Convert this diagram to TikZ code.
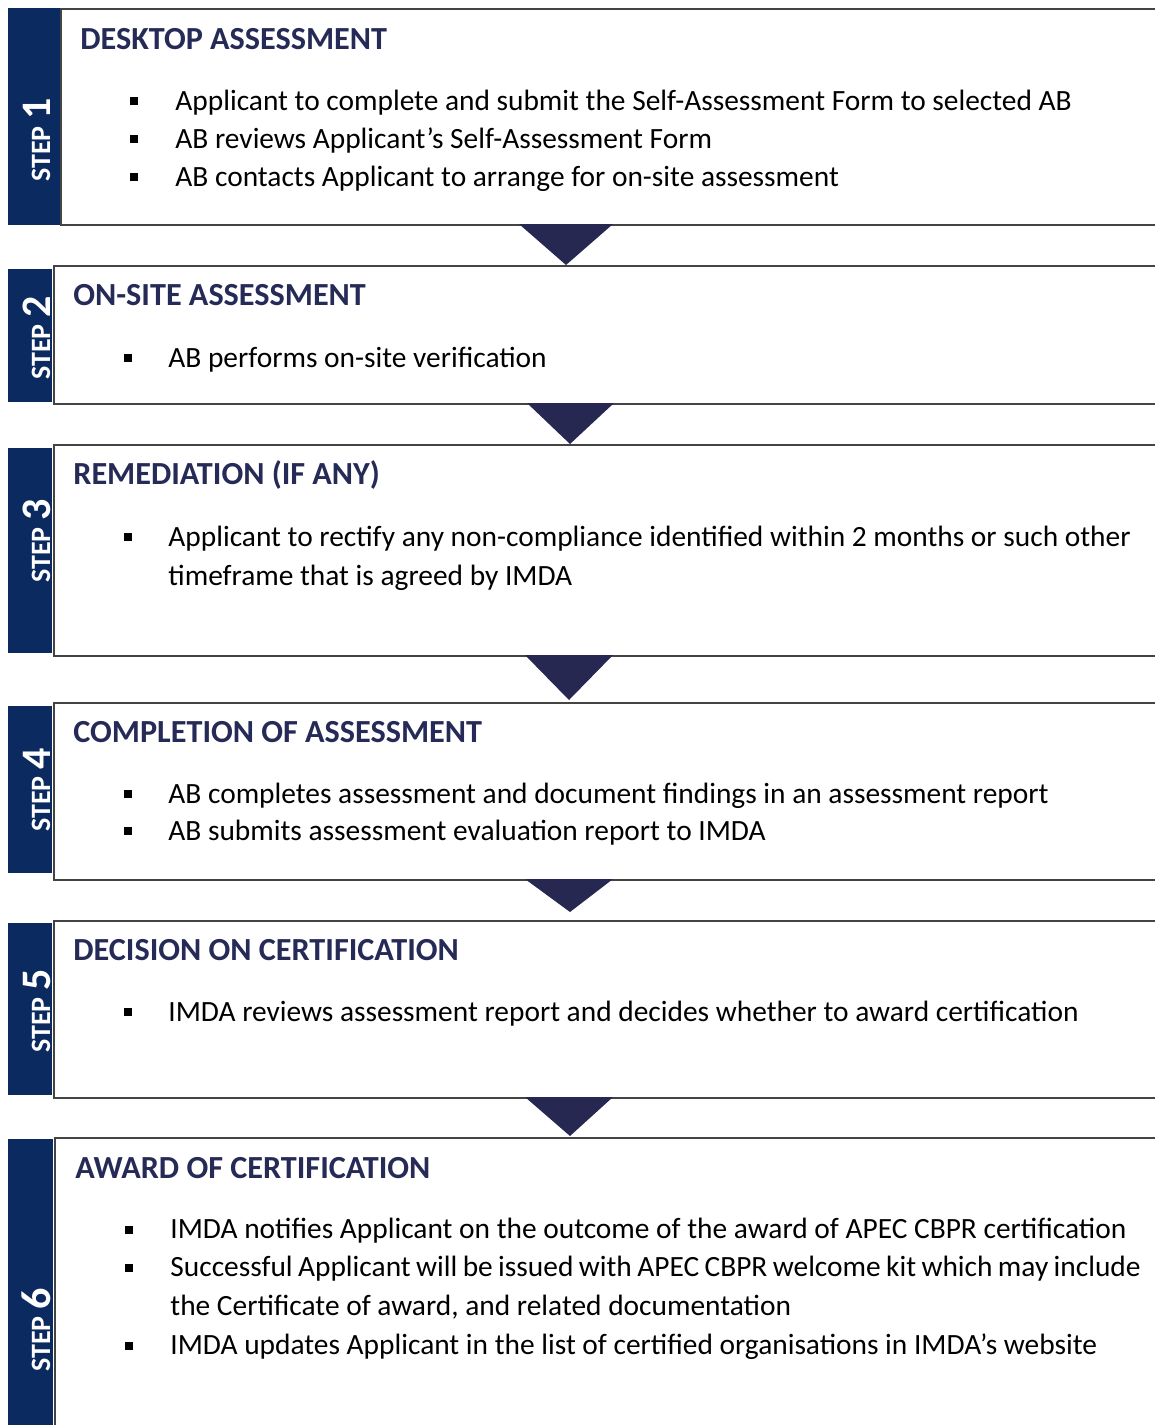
\documentclass[tikz,border=0pt]{standalone}
\usepackage{fontspec}
\setmainfont{Carlito}
\definecolor{barblue}{HTML}{0B2A5F}
\definecolor{headblue}{HTML}{262A56}
\definecolor{triblue}{HTML}{262852}
\definecolor{boxline}{HTML}{444444}
\begin{document}
\begin{tikzpicture}[x=0.5pt,y=-0.5pt,
 stepbox/.style={draw=boxline, line width=1pt, fill=white, anchor=north west, inner sep=0, minimum width=556pt},
 stepbar/.style={fill=barblue, anchor=north west, inner sep=0},
 steplabel/.style={rotate=90, anchor=base west, text=white, inner sep=0, font=\fontsize{14}{14}\selectfont\bfseries},
 heading/.style={anchor=base west, inner sep=0, text=headblue, font=\fontsize{16.1}{18}\selectfont\bfseries},
 bodyline/.style={anchor=base west, inner sep=0, text=black, font=\fontsize{14.7}{16}\selectfont},
 bulletsq/.style={fill=black, minimum size=4pt, inner sep=0, anchor=center},
 arrowtri/.style={fill=triblue}]
\useasboundingbox (0,0) rectangle (1155,1425);
\begin{scope}
\clip (0,0) rectangle (1155,1425);
% bars
\node[stepbar, minimum width=26pt, minimum height=108.5pt] (bar1) at (8,8) {};
\node[stepbar, minimum width=22pt, minimum height=66.5pt] (bar2) at (8,269) {};
\node[stepbar, minimum width=22pt, minimum height=102.5pt] (bar3) at (8,448) {};
\node[stepbar, minimum width=22pt, minimum height=83.5pt] (bar4) at (8,706) {};
\node[stepbar, minimum width=22pt, minimum height=86pt] (bar5) at (8,923) {};
\node[stepbar, minimum width=22.5pt, minimum height=150pt] (bar6) at (8,1139) {};
% boxes
\node[stepbox, minimum height=108pt] (box1) at (60,8) {};
\node[stepbox, minimum height=69pt] (box2) at (53,265) {};
\node[stepbox, minimum height=105.5pt] (box3) at (53,444) {};
\node[stepbox, minimum height=88.5pt] (box4) at (53,702) {};
\node[stepbox, minimum height=88.5pt] (box5) at (53,920) {};
\node[stepbox, minimum height=151.5pt] (box6) at (54,1137) {};
% triangles between steps
\fill[arrowtri] (519,224) -- (613,224) -- (566,265) -- cycle;
\fill[arrowtri] (527,403) -- (614,403) -- (570,444) -- cycle;
\fill[arrowtri] (525,655) -- (613,655) -- (569,700) -- cycle;
\fill[arrowtri] (525,879) -- (613,879) -- (570,912) -- cycle;
\fill[arrowtri] (525,1097) -- (613,1097) -- (570,1136) -- cycle;
\end{scope}
% step labels
\node[steplabel] (lab1) at (50,182) {STEP \fontsize{21}{21}\selectfont 1};
\node[steplabel] (lab2) at (50,380) {STEP \fontsize{21}{21}\selectfont 2};
\node[steplabel] (lab3) at (50,583) {STEP \fontsize{21}{21}\selectfont 3};
\node[steplabel] (lab4) at (50,832) {STEP \fontsize{21}{21}\selectfont 4};
\node[steplabel] (lab5) at (50,1053) {STEP \fontsize{21}{21}\selectfont 5};
\node[steplabel] (lab6) at (50,1372) {STEP \fontsize{21}{21}\selectfont 6};
% headings
\node[heading] (h1) at (80,49) {DESKTOP ASSESSMENT};
\node[heading] (h2) at (73,305) {ON-SITE ASSESSMENT};
\node[heading] (h3) at (73,484) {REMEDIATION (IF ANY)};
\node[heading] (h4) at (73,742) {COMPLETION OF ASSESSMENT};
\node[heading] (h5) at (73,960) {DECISION ON CERTIFICATION};
\node[heading] (h6) at (75,1178) {AWARD OF CERTIFICATION};
% step 1
\node[bulletsq] (s1b1) at (133.5,101) {};
\node[bodyline] (s1t1) at (175,110) {Applicant to complete and submit the Self-Assessment Form to selected AB};
\node[bulletsq] (s1b2) at (133.5,139) {};
\node[bodyline] (s1t2) at (175,148) {AB reviews Applicant’s Self-Assessment Form};
\node[bulletsq] (s1b3) at (133.5,177) {};
\node[bodyline] (s1t3) at (175,186) {AB contacts Applicant to arrange for on-site assessment};
% step 2
\node[bulletsq] (s2b1) at (127.5,358) {};
\node[bodyline] (s2t1) at (168,367) {AB performs on-site verification};
% step 3
\node[bulletsq] (s3b1) at (127.5,537) {};
\node[bodyline] (s3t1) at (168,546) {Applicant to rectify any non-compliance identified within 2 months or such other};
\node[bodyline] (s3t2) at (168,585) {timeframe that is agreed by IMDA};
% step 4
\node[bulletsq] (s4b1) at (127.5,794) {};
\node[bodyline] (s4t1) at (168,803) {AB completes assessment and document findings in an assessment report};
\node[bulletsq] (s4b2) at (127.5,831) {};
\node[bodyline] (s4t2) at (168,840) {AB submits assessment evaluation report to IMDA};
% step 5
\node[bulletsq] (s5b1) at (127.5,1012) {};
\node[bodyline] (s5t1) at (168,1021) {IMDA reviews assessment report and decides whether to award certification};
% step 6
\node[bulletsq] (s6b1) at (129,1230) {};
\node[bodyline] (s6t1) at (170,1238) {IMDA notifies Applicant on the outcome of the award of APEC CBPR certification};
\node[bulletsq] (s6b2) at (129,1268) {};
\node[bodyline] (s6t2) at (170,1276) {\spaceskip=2.7pt Successful Applicant will be issued with APEC CBPR welcome kit which may include};
\node[bodyline] (s6t3) at (170,1315) {the Certificate of award, and related documentation};
\node[bulletsq] (s6b3) at (129,1346) {};
\node[bodyline] (s6t4) at (170,1354) {IMDA updates Applicant in the list of certified organisations in IMDA’s website};
\end{tikzpicture}
\end{document}
